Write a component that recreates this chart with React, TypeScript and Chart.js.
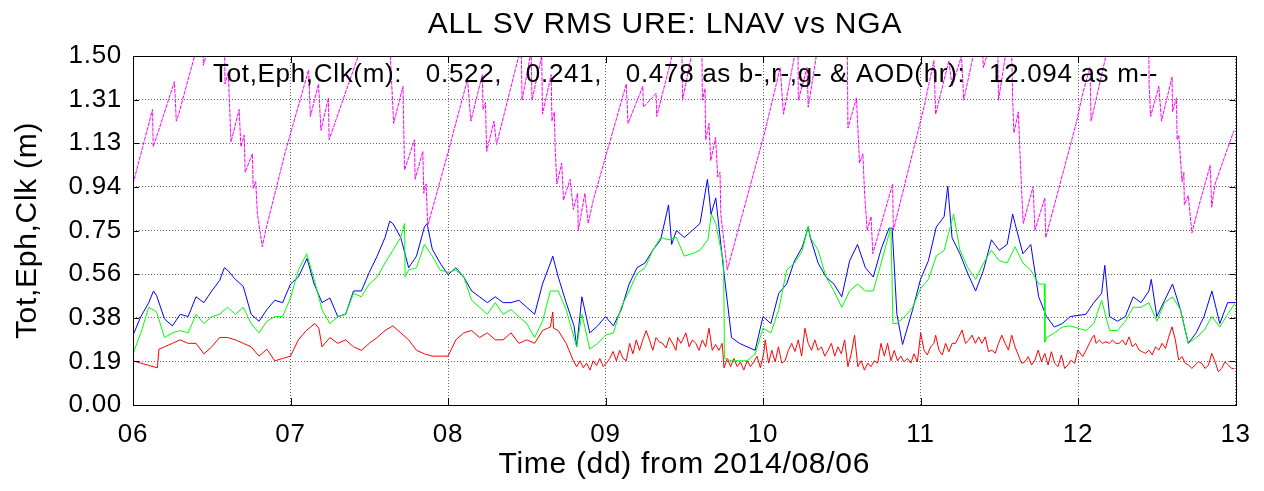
import { useEffect, useRef } from "react";
import { Chart, registerables } from "chart.js";

Chart.register(...registerables);

const FONT = '"Liberation Sans", Arial, Helvetica, sans-serif';

const TITLE = "ALL SV RMS URE: LNAV vs NGA";
const X_TITLE = "Time (dd) from 2014/08/06";
const Y_TITLE = "Tot,Eph,Clk (m)";
const NOTE = "Tot,Eph,Clk(m):   0.522,   0.241,   0.478 as b-,r-,g- & AOD(hr):   12.094 as m--";

const X_TICKS = [6, 7, 8, 9, 10, 11, 12, 13];
const X_LABELS = ["06", "07", "08", "09", "10", "11", "12", "13"];
const Y_TICKS = [0, 0.1875, 0.375, 0.5625, 0.75, 0.9375, 1.125, 1.3125, 1.5];
const Y_LABELS = ["0.00", "0.19", "0.38", "0.56", "0.75", "0.94", "1.13", "1.31", "1.50"];

// Tot (blue): [day, metres]
const TOT: number[][] = [
  [6.00,0.30],[6.05,0.38],[6.10,0.44],[6.13,0.49],[6.15,0.47],[6.20,0.37],[6.25,0.34],[6.30,0.39],[6.35,0.38],[6.40,0.465],
  [6.45,0.44],[6.50,0.49],[6.55,0.535],[6.58,0.59],[6.60,0.58],[6.65,0.54],[6.70,0.51],[6.75,0.39],[6.80,0.36],[6.85,0.41],
  [6.90,0.45],[6.95,0.44],[7.00,0.52],[7.05,0.55],[7.105,0.63],[7.15,0.52],[7.20,0.44],[7.25,0.46],[7.30,0.38],[7.35,0.39],
  [7.40,0.49],[7.45,0.49],[7.50,0.57],[7.55,0.64],[7.60,0.72],[7.63,0.79],[7.65,0.78],[7.70,0.72],[7.75,0.59],[7.80,0.64],
  [7.85,0.765],[7.867,0.78],[7.90,0.67],[7.95,0.61],[8.00,0.56],[8.05,0.59],[8.10,0.55],[8.15,0.49],[8.20,0.465],[8.25,0.44],
  [8.30,0.465],[8.35,0.44],[8.40,0.44],[8.45,0.45],[8.50,0.42],[8.55,0.39],[8.60,0.52],[8.65,0.61],[8.665,0.64],[8.70,0.55],
  [8.75,0.44],[8.80,0.34],[8.817,0.25],[8.85,0.465],[8.90,0.31],[8.95,0.34],[9.00,0.38],[9.05,0.34],[9.10,0.41],[9.15,0.52],
  [9.20,0.59],[9.25,0.61],[9.30,0.665],[9.35,0.71],[9.40,0.86],[9.42,0.69],[9.45,0.75],[9.50,0.72],[9.55,0.75],[9.60,0.78],
  [9.647,0.97],[9.67,0.82],[9.70,0.89],[9.75,0.58],[9.80,0.29],[9.85,0.265],[9.90,0.25],[9.95,0.235],[10.00,0.38],[10.05,0.35],
  [10.10,0.48],[10.15,0.52],[10.20,0.62],[10.25,0.68],[10.287,0.765],[10.30,0.72],[10.35,0.61],[10.40,0.55],[10.45,0.52],[10.50,0.465],
  [10.55,0.62],[10.60,0.69],[10.65,0.59],[10.70,0.55],[10.75,0.67],[10.80,0.76],[10.82,0.76],[10.85,0.39],[10.886,0.26],[10.95,0.41],
  [11.00,0.54],[11.05,0.62],[11.10,0.765],[11.15,0.81],[11.173,0.94],[11.20,0.72],[11.25,0.65],[11.30,0.565],[11.35,0.49],[11.40,0.58],
  [11.45,0.71],[11.50,0.665],[11.55,0.69],[11.585,0.82],[11.60,0.78],[11.65,0.65],[11.70,0.69],[11.75,0.465],[11.80,0.38],[11.85,0.335],
  [11.90,0.35],[11.95,0.38],[12.00,0.385],[12.05,0.39],[12.10,0.44],[12.15,0.48],[12.17,0.60],[12.20,0.38],[12.25,0.36],[12.30,0.38],
  [12.35,0.465],[12.40,0.44],[12.45,0.49],[12.465,0.54],[12.50,0.38],[12.55,0.45],[12.60,0.52],[12.65,0.41],[12.70,0.265],[12.75,0.31],
  [12.80,0.38],[12.85,0.49],[12.90,0.35],[12.95,0.44],[13.00,0.44],
];

// Eph (red)
const EPH: number[][] = [
  [6.00,0.19],[6.05,0.18],[6.10,0.17],[6.155,0.16],[6.165,0.24],[6.20,0.25],[6.25,0.265],[6.30,0.28],[6.35,0.265],[6.40,0.265],
  [6.45,0.22],[6.50,0.25],[6.55,0.29],[6.60,0.29],[6.65,0.28],[6.70,0.265],[6.75,0.25],[6.80,0.21],[6.85,0.24],[6.90,0.19],
  [6.95,0.20],[7.00,0.21],[7.05,0.28],[7.10,0.32],[7.155,0.35],[7.18,0.33],[7.20,0.25],[7.25,0.29],[7.30,0.265],[7.35,0.28],
  [7.40,0.25],[7.45,0.235],[7.50,0.265],[7.55,0.29],[7.60,0.32],[7.65,0.34],[7.70,0.31],[7.75,0.28],[7.80,0.235],[7.85,0.22],
  [7.90,0.21],[7.95,0.21],[8.00,0.21],[8.05,0.28],[8.10,0.31],[8.15,0.32],[8.20,0.29],[8.25,0.31],[8.30,0.28],[8.35,0.28],
  [8.40,0.31],[8.45,0.265],[8.50,0.28],[8.55,0.265],[8.60,0.32],[8.65,0.335],[8.665,0.40],[8.67,0.33],[8.70,0.32],[8.75,0.265],
  [8.796,0.19],[8.817,0.165],[8.838,0.19],[8.859,0.16],[8.88,0.18],[8.901,0.15],[8.922,0.19],[8.943,0.17],[8.964,0.20],[8.985,0.165],
  [9.006,0.18],[9.027,0.20],[9.048,0.23],[9.069,0.19],[9.09,0.235],[9.111,0.20],[9.132,0.19],[9.153,0.265],[9.174,0.22],[9.195,0.28],
  [9.216,0.235],[9.237,0.28],[9.258,0.32],[9.279,0.28],[9.30,0.235],[9.321,0.29],[9.342,0.27],[9.363,0.265],[9.384,0.245],[9.405,0.29],
  [9.426,0.265],[9.447,0.235],[9.458,0.29],[9.479,0.265],[9.51,0.31],[9.531,0.25],[9.552,0.28],[9.573,0.265],[9.594,0.235],[9.615,0.28],
  [9.636,0.25],[9.657,0.33],[9.678,0.235],[9.699,0.26],[9.72,0.235],[9.741,0.265],[9.752,0.16],[9.773,0.20],[9.794,0.165],[9.815,0.20],
  [9.836,0.165],[9.857,0.185],[9.878,0.15],[9.899,0.19],[9.92,0.165],[9.941,0.185],[9.962,0.21],[9.983,0.16],[10.004,0.22],[10.014,0.28],
  [10.035,0.18],[10.056,0.235],[10.077,0.185],[10.098,0.25],[10.119,0.18],[10.14,0.19],[10.161,0.235],[10.182,0.265],[10.203,0.23],[10.224,0.28],
  [10.245,0.21],[10.266,0.33],[10.287,0.265],[10.308,0.235],[10.329,0.28],[10.35,0.235],[10.371,0.25],[10.392,0.21],[10.413,0.235],[10.434,0.265],
  [10.455,0.21],[10.476,0.25],[10.497,0.22],[10.518,0.28],[10.539,0.165],[10.56,0.22],[10.581,0.30],[10.602,0.165],[10.623,0.19],[10.644,0.15],
  [10.665,0.18],[10.686,0.165],[10.707,0.19],[10.728,0.18],[10.749,0.265],[10.77,0.21],[10.791,0.265],[10.812,0.19],[10.833,0.235],[10.854,0.19],
  [10.875,0.21],[10.896,0.185],[10.917,0.20],[10.938,0.18],[10.959,0.22],[10.98,0.185],[11.001,0.31],
  [11.022,0.236],[11.043,0.215],[11.064,0.25],[11.085,0.265],[11.096,0.30],[11.117,0.236],[11.138,0.215],[11.159,0.265],[11.18,0.229],[11.201,0.265],
  [11.222,0.265],[11.243,0.293],[11.264,0.322],[11.285,0.265],[11.306,0.279],[11.327,0.30],[11.348,0.265],[11.369,0.293],[11.39,0.265],[11.411,0.293],
  [11.432,0.229],[11.453,0.236],[11.474,0.222],[11.495,0.265],[11.516,0.30],[11.537,0.265],[11.558,0.236],[11.579,0.30],[11.60,0.25],[11.621,0.215],
  [11.642,0.179],[11.663,0.186],[11.684,0.208],[11.705,0.172],[11.726,0.193],[11.747,0.236],[11.768,0.186],[11.789,0.222],[11.81,0.172],[11.831,0.229],
  [11.852,0.179],[11.873,0.165],[11.894,0.215],[11.915,0.157],[11.936,0.172],[11.957,0.193],[11.978,0.179],[11.999,0.236],[12.03,0.208],[12.051,0.236],
  [12.072,0.265],[12.093,0.293],[12.103,0.30],[12.114,0.265],[12.135,0.279],[12.156,0.265],[12.177,0.272],[12.198,0.265],[12.219,0.279],[12.24,0.265],
  [12.261,0.265],[12.282,0.279],[12.303,0.258],[12.324,0.293],[12.345,0.25],[12.366,0.265],[12.387,0.236],[12.408,0.229],[12.429,0.222],[12.45,0.236],
  [12.471,0.215],[12.492,0.25],[12.513,0.236],[12.534,0.265],[12.555,0.243],[12.576,0.293],[12.597,0.336],[12.618,0.279],[12.639,0.193],[12.66,0.208],
  [12.681,0.179],[12.702,0.172],[12.723,0.157],[12.744,0.172],[12.765,0.186],[12.786,0.179],[12.807,0.157],[12.828,0.172],[12.849,0.222],[12.87,0.186],
  [12.891,0.143],[12.912,0.157],[12.933,0.186],[12.954,0.172],[12.975,0.157],[12.99,0.157],
];

// Clk (green)
const CLK: number[][] = [
  [6.00,0.22],[6.05,0.31],[6.10,0.42],[6.15,0.40],[6.20,0.29],[6.25,0.31],[6.30,0.32],[6.35,0.31],[6.40,0.39],[6.45,0.35],
  [6.50,0.38],[6.55,0.39],[6.60,0.42],[6.65,0.39],[6.70,0.42],[6.75,0.35],[6.80,0.31],[6.85,0.36],[6.90,0.38],[6.95,0.38],
  [7.00,0.46],[7.05,0.58],[7.103,0.65],[7.15,0.54],[7.20,0.41],[7.25,0.35],[7.30,0.38],[7.35,0.39],[7.40,0.48],[7.45,0.465],
  [7.50,0.52],[7.55,0.55],[7.60,0.61],[7.65,0.665],[7.70,0.72],[7.724,0.78],[7.728,0.55],[7.75,0.58],[7.80,0.59],[7.85,0.69],
  [7.90,0.64],[7.95,0.58],[8.00,0.57],[8.05,0.58],[8.10,0.55],[8.15,0.45],[8.20,0.42],[8.25,0.39],[8.30,0.44],[8.35,0.39],
  [8.40,0.41],[8.45,0.38],[8.50,0.35],[8.55,0.29],[8.60,0.36],[8.65,0.49],[8.70,0.49],[8.75,0.41],[8.80,0.29],[8.817,0.25],
  [8.85,0.39],[8.90,0.24],[8.95,0.265],[9.00,0.30],[9.05,0.31],[9.10,0.42],[9.15,0.49],[9.20,0.565],[9.25,0.59],[9.30,0.665],
  [9.35,0.72],[9.40,0.71],[9.45,0.72],[9.50,0.64],[9.55,0.65],[9.60,0.665],[9.65,0.71],[9.672,0.82],[9.70,0.78],[9.75,0.61],
  [9.755,0.20],[9.80,0.19],[9.85,0.19],[9.90,0.19],[9.95,0.22],[10.00,0.33],[10.05,0.31],[10.10,0.41],[10.15,0.58],[10.20,0.61],
  [10.25,0.665],[10.287,0.77],[10.30,0.72],[10.35,0.665],[10.40,0.55],[10.45,0.49],[10.50,0.42],[10.55,0.49],[10.60,0.52],[10.65,0.49],
  [10.70,0.49],[10.75,0.61],[10.812,0.765],[10.825,0.35],[10.85,0.35],[10.90,0.38],[10.95,0.42],[11.00,0.50],[11.05,0.54],[11.10,0.64],
  [11.15,0.665],[11.21,0.82],[11.25,0.665],[11.30,0.59],[11.35,0.54],[11.40,0.61],[11.45,0.665],[11.50,0.62],[11.55,0.61],[11.60,0.68],
  [11.65,0.61],[11.70,0.58],[11.75,0.52],[11.785,0.52],[11.79,0.27],[11.80,0.29],[11.85,0.31],[11.90,0.335],[11.95,0.34],[12.00,0.33],
  [12.05,0.32],[12.10,0.35],[12.15,0.45],[12.20,0.32],[12.25,0.32],[12.30,0.36],[12.35,0.42],[12.40,0.42],[12.45,0.44],[12.50,0.36],
  [12.55,0.44],[12.60,0.465],[12.65,0.41],[12.70,0.265],[12.75,0.29],[12.80,0.32],[12.85,0.38],[12.90,0.335],[12.95,0.39],[13.00,0.44],
];

// AOD (magenta, as plotted on the same axis)
const AOD: number[][] = [
  [6.000,0.95],[6.124,1.27],[6.128,1.11],[6.139,1.13],[6.263,1.39],[6.275,1.22],[6.286,1.24],[6.391,1.50],[6.440,1.62],[6.447,1.46],
  [6.470,1.52],[6.500,1.65],[6.580,1.65],[6.584,1.38],[6.605,1.43],[6.622,1.13],[6.674,1.27],[6.685,1.11],[6.706,1.16],[6.712,1.00],
  [6.758,1.08],[6.763,0.93],[6.779,0.96],[6.790,0.82],[6.821,0.68],[6.842,0.75],[6.905,0.92],[6.968,1.09],[7.115,1.44],[7.126,1.24],
  [7.178,1.38],[7.193,1.18],[7.241,1.32],[7.245,1.14],[7.430,1.50],[7.480,1.62],[7.625,1.62],[7.655,1.21],[7.714,1.37],[7.724,1.01],
  [7.787,1.14],[7.791,0.97],[7.840,1.09],[7.846,0.91],[7.861,0.95],[7.871,0.77],[7.998,1.08],[8.124,1.40],[8.145,1.22],[8.218,1.42],
  [8.222,1.27],[8.238,1.30],[8.245,1.09],[8.292,1.22],[8.308,1.12],[8.449,1.50],[8.465,1.55],[8.470,1.31],[8.528,1.52],[8.533,1.31],
  [8.595,1.50],[8.600,1.25],[8.655,1.42],[8.660,1.22],[8.675,1.26],[8.680,1.11],[8.691,0.95],[8.722,1.04],[8.733,0.88],[8.775,0.97],
  [8.796,0.84],[8.823,0.91],[8.827,0.75],[8.869,0.91],[8.890,0.78],[8.922,0.88],[9.006,1.08],[9.132,1.38],[9.143,1.21],[9.237,1.37],
  [9.240,1.28],[9.321,1.34],[9.325,1.24],[9.430,1.52],[9.485,1.55],[9.489,1.31],[9.560,1.55],[9.612,1.55],[9.615,1.31],[9.632,1.36],
  [9.636,1.14],[9.657,1.21],[9.668,1.05],[9.699,1.15],[9.712,0.98],[9.727,1.00],[9.732,0.82],[9.773,0.58],[10.014,1.18],[10.109,1.45],
  [10.130,1.25],[10.200,1.50],[10.222,1.55],[10.224,1.31],[10.280,1.45],[10.287,1.28],[10.350,1.55],[10.530,1.60],[10.535,1.55],[10.539,1.19],
  [10.593,1.32],[10.613,1.04],[10.634,1.08],[10.644,0.92],[10.661,0.75],[10.686,0.81],[10.697,0.65],[10.823,0.95],[10.827,0.75],[11.022,1.28],
  [11.085,1.48],[11.096,1.25],[11.180,1.48],[11.200,1.37],[11.260,1.50],[11.274,1.31],[11.350,1.55],[11.390,1.55],[11.400,1.45],[11.440,1.55],
  [11.490,1.55],[11.495,1.31],[11.550,1.55],[11.578,1.55],[11.585,1.31],[11.593,1.17],[11.621,1.26],[11.631,1.09],[11.642,0.92],[11.652,0.78],
  [11.715,0.94],[11.726,0.75],[11.789,0.89],[11.795,0.72],[11.988,1.21],[12.030,1.34],[12.076,1.45],[12.083,1.22],[12.177,1.50],[12.250,1.60],
  [12.449,1.60],[12.451,1.38],[12.461,1.24],[12.513,1.37],[12.530,1.22],[12.597,1.41],[12.600,1.26],[12.625,1.32],[12.629,1.14],[12.640,1.16],
  [12.660,0.96],[12.672,1.00],[12.675,0.86],[12.700,0.90],[12.723,0.74],[12.765,0.85],[12.839,1.03],[12.849,0.85],[12.870,0.95],[12.990,1.18],
];

const toXY = (pts: number[][]) => pts.map(([x, y]) => ({ x, y }));

const decor = {
  id: "decor",
  beforeDraw(chart: any) {
    chart.ctx.letterSpacing = "0.7px";
  },
  afterDraw(chart: any) {
    const { ctx, chartArea: a, scales } = chart;
    ctx.save();
    ctx.strokeStyle = "#000";
    ctx.lineWidth = 1;
    ctx.setLineDash([]);
    ctx.beginPath();
    for (const v of Y_TICKS) {
      const y = Math.round(scales.y.getPixelForValue(v)) + 0.5;
      ctx.moveTo(a.left, y); ctx.lineTo(a.left + 6, y);
      ctx.moveTo(a.right, y); ctx.lineTo(a.right - 6, y);
    }
    for (const v of X_TICKS) {
      const x = Math.round(scales.x.getPixelForValue(v)) + 0.5;
      ctx.moveTo(x, a.bottom); ctx.lineTo(x, a.bottom - 7);
      ctx.moveTo(x, a.top); ctx.lineTo(x, a.top + 7);
    }
    ctx.stroke();
    ctx.strokeRect(Math.round(a.left) + 0.5, Math.round(a.top) + 0.5, Math.round(a.right - a.left), Math.round(a.bottom - a.top));

    ctx.fillStyle = "#000";
    ctx.textBaseline = "alphabetic";
    ctx.font = `30px ${FONT}`;
    ctx.letterSpacing = "0.8px";
    ctx.textAlign = "center";
    ctx.fillText(TITLE, 665, 33);

    ctx.font = `26px ${FONT}`;
    ctx.letterSpacing = "0px";
    const w = ctx.measureText(NOTE).width;
    const extra = Math.max(0, (945 - w) / NOTE.length);
    ctx.letterSpacing = `${extra.toFixed(2)}px`;
    ctx.textAlign = "left";
    ctx.fillText(NOTE, 213, 82);
    ctx.restore();
    ctx.letterSpacing = "0px";
  },
};

export default function App() {
  const ref = useRef<HTMLCanvasElement | null>(null);

  useEffect(() => {
    if (!ref.current) return;
    const chart = new Chart(ref.current, {
      type: "line",
      data: {
        datasets: [
          { label: "Tot", data: toXY(TOT), borderColor: "#0000ff", borderWidth: 1, pointRadius: 0, order: 4 },
          { label: "Eph", data: toXY(EPH), borderColor: "#ff0000", borderWidth: 1, pointRadius: 0, order: 3 },
          { label: "Clk", data: toXY(CLK), borderColor: "#00ff00", borderWidth: 1, pointRadius: 0, order: 2 },
          { label: "AOD", data: toXY(AOD), borderColor: "#ff00ff", borderWidth: 1, borderDash: [4, 1], pointRadius: 0, order: 1 },
        ],
      },
      options: {
        animation: false,
        responsive: false,
        events: [],
        layout: { padding: { left: 0, top: 56, right: 20, bottom: 0 } },
        plugins: { legend: { display: false }, tooltip: { enabled: false }, title: { display: false } },
        scales: {
          x: {
            type: "linear",
            min: 6,
            max: 13,
            afterBuildTicks: (s: any) => { s.ticks = X_TICKS.map((v) => ({ value: v })); },
            afterFit: (s: any) => { s.height = 86; },
            ticks: {
              autoSkip: false,
              maxRotation: 0,
              padding: 14,
              color: "#000",
              font: { family: FONT, size: 26 },
              callback: (_v: any, i: number) => X_LABELS[i],
            },
            grid: { color: "rgba(0,0,0,0.6)", lineWidth: 1, drawTicks: false },
            border: { display: false, dash: [1, 2] },
            title: { display: true, text: X_TITLE, color: "#000", font: { family: FONT, size: 30 }, padding: { top: 0, bottom: 8 } },
          },
          y: {
            type: "linear",
            min: 0,
            max: 1.5,
            afterBuildTicks: (s: any) => { s.ticks = Y_TICKS.map((v) => ({ value: v })); },
            afterFit: (s: any) => { s.width = 133; },
            ticks: {
              autoSkip: false,
              padding: 11,
              color: "#000",
              font: { family: FONT, size: 26 },
              callback: (_v: any, i: number) => Y_LABELS[i],
            },
            grid: { color: "rgba(0,0,0,0.6)", lineWidth: 1, drawTicks: false },
            border: { display: false, dash: [1, 2] },
            title: { display: true, text: Y_TITLE, color: "#000", font: { family: FONT, size: 30 }, padding: { top: 10, bottom: 0 } },
          },
        },
      },
      plugins: [decor],
    });
    return () => chart.destroy();
  }, []);

  return (
    <div style={{ position: "fixed", left: 0, top: 0, width: 1264, height: 491, background: "#fff" }}>
      <canvas ref={ref} width={1264} height={491} style={{ display: "block", width: 1264, height: 491 }} />
    </div>
  );
}
